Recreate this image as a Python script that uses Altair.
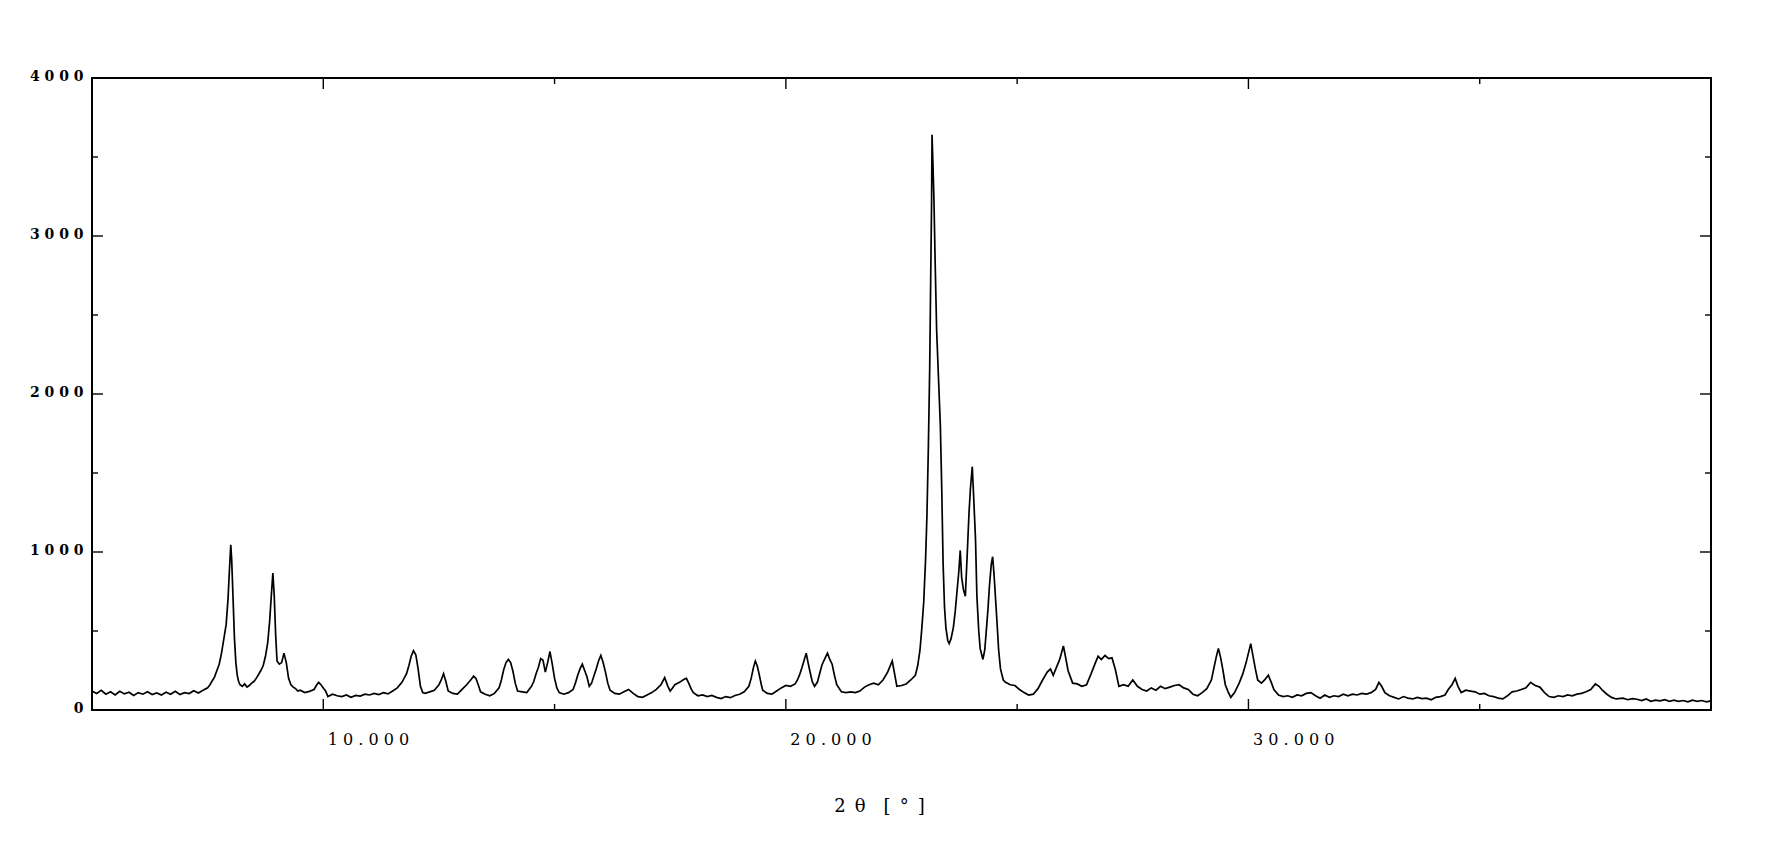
import altair as alt
import pandas as pd

# ---- data (2θ in degrees, intensity in counts) ----
two_theta = [
    5.0, 5.1, 5.2, 5.3, 5.4, 5.5, 5.6, 5.7, 5.8, 5.9, 6.0, 6.1, 6.2, 6.3, 6.4, 6.5, 6.6, 6.7, 6.8, 6.9,
    7.0, 7.1, 7.2, 7.3, 7.4, 7.5, 7.55, 7.6, 7.65, 7.7, 7.75, 7.8, 7.85, 7.9, 7.94, 7.97, 8.0, 8.02, 8.05, 8.08,
    8.11, 8.14, 8.17, 8.2, 8.25, 8.3, 8.35, 8.4, 8.45, 8.5, 8.55, 8.6, 8.65, 8.7, 8.75, 8.8, 8.84, 8.88, 8.91, 8.94,
    8.97, 9.0, 9.05, 9.1, 9.15, 9.2, 9.25, 9.3, 9.35, 9.4, 9.45, 9.5, 9.6, 9.7, 9.8, 9.85, 9.9, 9.95, 10.0, 10.05,
    10.1, 10.2, 10.3, 10.4, 10.5, 10.6, 10.7, 10.8, 10.9, 11.0, 11.1, 11.2, 11.3, 11.4, 11.5, 11.6, 11.7, 11.8, 11.85, 11.9,
    11.95, 12.0, 12.05, 12.1, 12.15, 12.2, 12.3, 12.4, 12.5, 12.55, 12.6, 12.65, 12.7, 12.8, 12.9, 13.0, 13.1, 13.2, 13.25, 13.3,
    13.35, 13.4, 13.5, 13.6, 13.7, 13.8, 13.85, 13.9, 13.95, 14.0, 14.05, 14.1, 14.15, 14.2, 14.3, 14.4, 14.5, 14.55, 14.6, 14.65,
    14.7, 14.75, 14.8, 14.85, 14.9, 14.95, 15.0, 15.05, 15.1, 15.2, 15.3, 15.4, 15.45, 15.5, 15.55, 15.6, 15.65, 15.7, 15.75, 15.8,
    15.85, 15.9, 15.95, 16.0, 16.05, 16.1, 16.15, 16.2, 16.3, 16.4, 16.5, 16.6, 16.7, 16.8, 16.9, 17.0, 17.1, 17.2, 17.3, 17.38,
    17.45, 17.5, 17.55, 17.6, 17.7, 17.8, 17.85, 17.9, 17.95, 18.0, 18.1, 18.2, 18.3, 18.4, 18.5, 18.6, 18.7, 18.8, 18.9, 19.0,
    19.1, 19.2, 19.25, 19.3, 19.34, 19.38, 19.42, 19.47, 19.5, 19.6, 19.7, 19.8, 19.9, 20.0, 20.1, 20.2, 20.25, 20.3, 20.35, 20.4,
    20.44, 20.48, 20.52, 20.57, 20.62, 20.68, 20.73, 20.78, 20.85, 20.9, 20.95, 21.0, 21.05, 21.1, 21.2, 21.3, 21.4, 21.5, 21.6, 21.7,
    21.8, 21.9, 22.0, 22.1, 22.2, 22.3, 22.35, 22.4, 22.5, 22.6, 22.7, 22.8, 22.85, 22.9, 22.94, 22.98, 23.02, 23.05, 23.08, 23.11,
    23.13, 23.15, 23.16, 23.18, 23.2, 23.23, 23.26, 23.3, 23.34, 23.37, 23.4, 23.43, 23.46, 23.5, 23.53, 23.57, 23.62, 23.66, 23.7, 23.74,
    23.77, 23.8, 23.84, 23.88, 23.92, 23.96, 23.99, 24.03, 24.06, 24.1, 24.13, 24.17, 24.2, 24.26, 24.3, 24.33, 24.37, 24.4, 24.44, 24.47,
    24.5, 24.53, 24.57, 24.6, 24.64, 24.7, 24.75, 24.85, 24.95, 25.05, 25.15, 25.25, 25.35, 25.45, 25.55, 25.65, 25.72, 25.78, 25.85, 25.92,
    26.0, 26.05, 26.1, 26.2, 26.3, 26.4, 26.5, 26.6, 26.68, 26.75, 26.82, 26.9, 26.98, 27.05, 27.12, 27.2, 27.3, 27.4, 27.5, 27.6,
    27.7, 27.8, 27.9, 28.0, 28.1, 28.2, 28.3, 28.4, 28.5, 28.6, 28.7, 28.8, 28.9, 29.0, 29.1, 29.2, 29.25, 29.3, 29.35, 29.4,
    29.45, 29.5, 29.56, 29.62, 29.7, 29.8, 29.88, 29.95, 30.0, 30.05, 30.1, 30.15, 30.2, 30.28, 30.35, 30.43, 30.5, 30.55, 30.65, 30.75,
    30.85, 30.95, 31.05, 31.15, 31.25, 31.35, 31.45, 31.55, 31.65, 31.75, 31.85, 31.95, 32.05, 32.15, 32.25, 32.35, 32.45, 32.55, 32.65, 32.75,
    32.82, 32.88, 32.95, 33.05, 33.15, 33.25, 33.35, 33.45, 33.55, 33.65, 33.75, 33.85, 33.95, 34.05, 34.15, 34.25, 34.32, 34.4, 34.47, 34.53,
    34.6, 34.7, 34.8, 34.9, 35.0, 35.1, 35.2, 35.3, 35.4, 35.5, 35.6, 35.7, 35.8, 35.9, 36.0, 36.1, 36.2, 36.3, 36.4, 36.5,
    36.6, 36.7, 36.8, 36.9, 37.0, 37.1, 37.2, 37.3, 37.4, 37.5, 37.58, 37.65, 37.75, 37.85, 37.95, 38.1, 38.2, 38.3, 38.4, 38.5,
    38.6, 38.7, 38.8, 38.9, 39.0, 39.1, 39.2, 39.3, 39.4, 39.5, 39.6, 39.7, 39.8, 39.9, 40.0,
]

intensity = [
    120, 105, 125, 100, 115, 95, 118, 102, 112, 92, 110, 100, 115, 98, 108, 95, 112, 100, 118, 98,
    110, 104, 122, 108, 125, 140, 160, 185, 210, 250, 290, 360, 450, 540, 700, 880, 1045, 950, 700, 450,
    300, 220, 180, 160, 150, 165, 145, 155, 170, 180, 200, 225, 250, 280, 340, 430, 560, 740, 866, 720,
    480, 310, 290, 300, 360, 300, 200, 160, 145, 135, 120, 125, 110, 118, 130, 155, 175, 160, 140, 120,
    85, 100, 90, 85, 95, 80, 92, 88, 100, 95, 105, 98, 110, 102, 120, 140, 175, 230, 280, 340,
    375, 350, 260, 150, 110, 105, 115, 125, 160, 190, 230, 180, 120, 105, 100, 130, 160, 195, 215, 200,
    160, 115, 100, 90, 105, 140, 190, 255, 300, 320, 300, 245, 170, 120, 115, 110, 150, 180, 230, 270,
    325, 315, 240, 300, 370, 290, 200, 140, 110, 100, 110, 130, 170, 220, 260, 290, 250, 210, 150, 170,
    215, 260, 310, 345, 300, 240, 170, 125, 105, 100, 115, 130, 105, 85, 80, 95, 110, 130, 160, 205,
    150, 120, 140, 160, 175, 195, 200, 170, 135, 110, 90, 95, 85, 92, 80, 72, 85, 78, 92, 100,
    115, 150, 200, 270, 310, 280, 230, 160, 125, 105, 100, 120, 140, 155, 150, 165, 190, 225, 270, 320,
    360, 300, 245, 180, 150, 175, 230, 285, 330, 360, 320, 290, 220, 160, 115, 110, 115, 110, 120, 145,
    160, 170, 160, 190, 240, 310, 230, 150, 155, 165, 190, 220, 280, 380, 520, 680, 950, 1230, 1650, 2170,
    2700, 3200, 3640, 3450, 3250, 2800, 2400, 2100, 1800, 1400, 920, 650, 520, 440, 420, 450, 520, 620, 750, 880,
    1010, 840, 760, 720, 980, 1250, 1400, 1540, 1350, 1080, 720, 500, 390, 320, 380, 490, 640, 780, 920, 970,
    860, 720, 530, 380, 260, 190, 175, 160, 155, 130, 110, 95, 100, 135, 190, 240, 260, 220, 270, 320,
    405, 330, 250, 170, 165, 150, 160, 230, 290, 340, 320, 345, 325, 330, 260, 150, 160, 150, 190, 150,
    130, 120, 140, 125, 150, 135, 145, 155, 160, 140, 130, 100, 90, 110, 135, 190, 260, 330, 390, 330,
    250, 160, 115, 80, 110, 170, 230, 300, 360, 420, 340, 260, 190, 170, 190, 220, 170, 130, 95, 85,
    90, 80, 95, 90, 105, 110, 90, 75, 95, 80, 90, 85, 100, 90, 100, 95, 105, 100, 110, 130,
    175, 150, 110, 90, 80, 70, 85, 75, 70, 80, 72, 75, 65, 80, 85, 95, 130, 160, 200, 150,
    110, 125, 120, 115, 100, 105, 90, 85, 75, 70, 90, 115, 120, 130, 140, 175, 155, 145, 110, 85,
    80, 90, 85, 95, 90, 100, 105, 115, 130, 165, 150, 125, 100, 80, 70, 75, 65, 72, 68, 60,
    70, 55, 62, 58, 65, 55, 62, 55, 60, 52, 62, 55, 60, 52, 58,
]

x_label_values = [10, 20, 30]
x_minor_values = [15, 25, 35]
y_label_values = [0, 1000, 2000, 3000, 4000]
y_major_tick_values = [1000, 2000, 3000]
y_minor_tick_values = [500, 1500, 2500, 3500]

W, H = 1619, 632
X_DOMAIN = [5, 40]
Y_DOMAIN = [0, 4000]
MAJOR, MINOR = 11, 6

df = pd.DataFrame({"tt": two_theta, "I": intensity})

xs = alt.Scale(domain=X_DOMAIN, nice=False, zero=False)
ys = alt.Scale(domain=Y_DOMAIN, nice=False)

x_axis = alt.Axis(
    values=x_label_values,
    title="2\u2002θ\u2003[\u2002°\u2002]",
    titleFont="DejaVu Serif",
    titleFontSize=18,
    titleFontWeight="normal",
    titleColor="black",
    titleX=787,
    titleY=96,
    titleAlign="center",
    titleBaseline="middle",
    labelExpr="join(split(format(datum.value, '.3f'), ''), ' ')",
    labelAlign="left",
    labelBaseline="top",
    labelFont="DejaVu Serif",
    labelFontSize=16,
    labelColor="black",
    labelPadding=21,
    labelOffset=4,
    ticks=False,
    domain=False,
    grid=False,
)

y_axis = alt.Axis(
    values=y_label_values,
    title=None,
    labelExpr="join(split(toString(datum.value), ''), ' ')",
    labelFont="DejaVu Serif",
    labelFontSize=14,
    labelFontWeight="bold",
    labelColor="black",
    labelBaseline="middle",
    labelOffset=-2,
    labelPadding=9,
    ticks=False,
    domain=False,
    grid=False,
)

line = alt.Chart(df).mark_line(color="black", strokeWidth=1.7, interpolate="linear").encode(
    x=alt.X("tt:Q", scale=xs, axis=x_axis),
    y=alt.Y("I:Q", scale=ys, axis=y_axis),
)


def xticks(values, length):
    d = pd.DataFrame({"tt": values})
    bottom = alt.Chart(d).mark_rule(color="black", strokeWidth=1.4).encode(
        x=alt.X("tt:Q", scale=xs, axis=x_axis), y=alt.value(H), y2=alt.value(H - length)
    )
    top = alt.Chart(d).mark_rule(color="black", strokeWidth=1.4).encode(
        x=alt.X("tt:Q", scale=xs, axis=x_axis), y=alt.value(0), y2=alt.value(length)
    )
    return [bottom, top]


def yticks(values, length):
    d = pd.DataFrame({"I": values})
    left = alt.Chart(d).mark_rule(color="black", strokeWidth=1.4).encode(
        y=alt.Y("I:Q", scale=ys, axis=y_axis), x=alt.value(0), x2=alt.value(length)
    )
    right = alt.Chart(d).mark_rule(color="black", strokeWidth=1.4).encode(
        y=alt.Y("I:Q", scale=ys, axis=y_axis), x=alt.value(W), x2=alt.value(W - length)
    )
    return [left, right]


layers = [line]
layers += xticks(x_label_values, MAJOR)
layers += xticks(x_minor_values, MINOR)
layers += yticks(y_major_tick_values, MAJOR)
layers += yticks(y_minor_tick_values, MINOR)

chart = (
    alt.layer(*layers)
    .properties(
        width=W,
        height=H,
        autosize=alt.AutoSizeParams(type="none"),
        padding={"left": 84, "top": 70, "right": 53, "bottom": 127},
    )
    .configure(background="white", view=alt.ViewConfig(stroke="black", strokeWidth=2))
)

chart.save("out.html", embed_options={"renderer": "svg", "actions": False})
